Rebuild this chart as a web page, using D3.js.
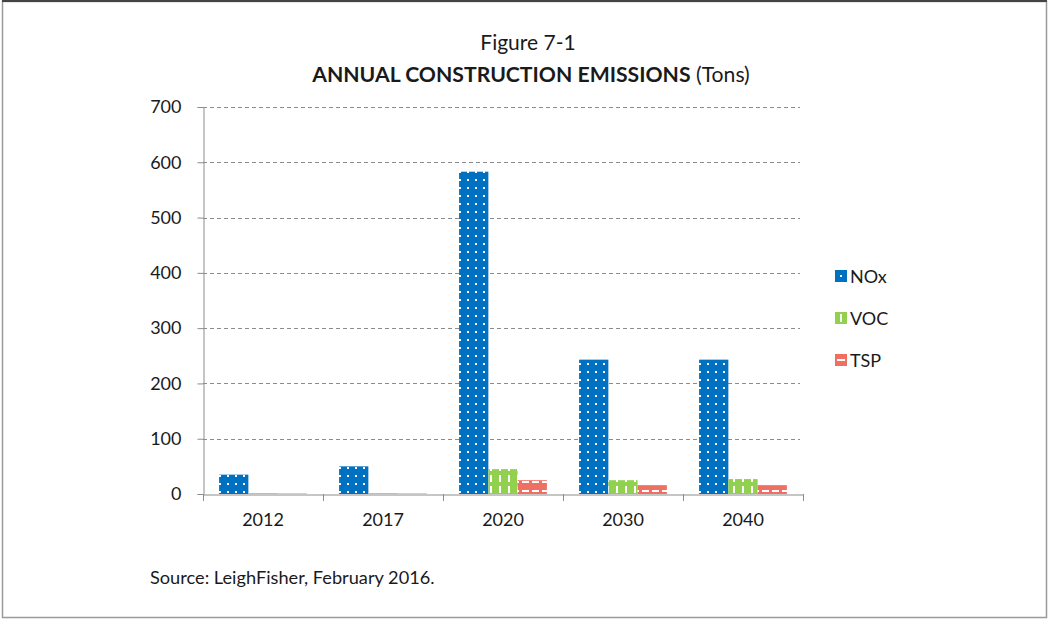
<!DOCTYPE html>
<html>
<head>
<meta charset="utf-8">
<script src="https://cdn.jsdelivr.net/npm/d3@7"></script>
<style>
  body { margin: 0; background: #fff; }
  svg text { font-family: Lato, "Open Sans", sans-serif; fill: #1a1a1a; }
</style>
</head>
<body>
<script>
'use strict';

const years = ['2012', '2017', '2020', '2030', '2040'];
const seriesNames = ['NOx', 'VOC', 'TSP'];
const noxValues = [35, 50, 583, 243, 243];
const vocValues = [1.5, 1.5, 45, 25, 27];
const tspValues = [0.8, 0.8, 25, 16, 16];
const yTicks = [0, 100, 200, 300, 400, 500, 600, 700];

const W = 1049, H = 620;
const margin = { left: 203, right: 246, top: 107, bottom: 126 };
const fontStack = 'Lato, "Open Sans", sans-serif';

const svg = d3.select('body').append('svg')
  .attr('width', W).attr('height', H)
  .attr('viewBox', `0 0 ${W} ${H}`);

const defs = svg.append('defs');

// fill patterns: dots, vertical dashes, horizontal dashes
const addPattern = (id, color, size, mark) => {
  const p = defs.append('pattern')
    .attr('id', id)
    .attr('patternUnits', 'userSpaceOnUse')
    .attr('width', size.w).attr('height', size.h);
  p.append('rect').attr('width', size.w).attr('height', size.h).attr('fill', color);
  p.append('rect')
    .attr('x', mark.x).attr('y', mark.y)
    .attr('width', mark.w).attr('height', mark.h)
    .attr('fill', '#fff');
};
addPattern('pNOx', '#0070c0', { w: 8, h: 8 }, { x: 3, y: 3, w: 2, h: 2 });
addPattern('pVOC', '#92d050', { w: 9, h: 11 }, { x: 4, y: 2, w: 2, h: 7 });
addPattern('pTSP', '#ef6f62', { w: 10, h: 9 }, { x: 2, y: 4, w: 7, h: 2 });

// frame
svg.append('rect')
  .attr('x', 2.5).attr('y', 1.5)
  .attr('width', W - 5).attr('height', H - 4)
  .attr('fill', 'none').attr('stroke', '#9a9a9a').attr('stroke-width', 1.5);
svg.append('line')
  .attr('x1', 2).attr('x2', W - 2).attr('y1', 1).attr('y2', 1)
  .attr('stroke', '#444').attr('stroke-width', 2);

// title
svg.append('text')
  .attr('x', 528).attr('y', 50)
  .attr('text-anchor', 'middle')
  .attr('font-size', 21)
  .text('Figure 7-1');
const t2 = svg.append('text')
  .attr('x', 531).attr('y', 82)
  .attr('text-anchor', 'middle')
  .attr('font-size', 21.2);
t2.append('tspan').attr('font-weight', 'bold').text('ANNUAL CONSTRUCTION EMISSIONS');
t2.append('tspan').text(' (Tons)');

const plotW = W - margin.left - margin.right;
const plotH = H - margin.top - margin.bottom;

const x = d3.scaleBand().domain(years).range([margin.left, margin.left + plotW]).paddingInner(0).paddingOuter(0);
const sub = d3.scaleBand().domain(seriesNames).range([0, x.bandwidth()]).paddingOuter(0.55).paddingInner(0);
const y = d3.scaleLinear().domain([0, 700]).range([margin.top + plotH, margin.top]);

// grid
svg.append('g').selectAll('line')
  .data(yTicks.filter(d => d > 0))
  .join('line')
  .attr('x1', margin.left).attr('x2', margin.left + plotW - 3)
  .attr('y1', d => Math.round(y(d)) + 0.5).attr('y2', d => Math.round(y(d)) + 0.5)
  .attr('stroke', '#8c8c8c')
  .attr('stroke-dasharray', '4,3');

// y axis
const yAxis = svg.append('g')
  .attr('transform', `translate(${margin.left + 0.5},0)`)
  .call(d3.axisLeft(y).tickValues(yTicks).tickSize(6).tickPadding(16));
yAxis.select('.domain').attr('stroke', '#8c8c8c');
yAxis.selectAll('.tick line').attr('stroke', '#8c8c8c');
yAxis.selectAll('.tick text').attr('font-size', 18).attr('fill', '#1a1a1a')
  .style('font-family', fontStack);

// bars
const seriesData = [noxValues, vocValues, tspValues];
const groups = svg.append('g').selectAll('g')
  .data(seriesNames)
  .join('g')
  .attr('fill', name => `url(#p${name})`);
groups.selectAll('rect')
  .data((name, i) => years.map((yr, j) => ({ yr, name, v: seriesData[i][j] })))
  .join('rect')
  .attr('x', d => x(d.yr) + sub(d.name))
  .attr('width', sub.bandwidth())
  .attr('y', d => y(d.v))
  .attr('height', d => y(0) - y(d.v));

// x axis
const xAxis = svg.append('g')
  .attr('transform', `translate(0,${Math.round(y(0)) + 0.5})`)
  .call(d3.axisBottom(x).tickSize(0).tickPadding(19));
xAxis.select('.domain').attr('stroke', '#8c8c8c');
xAxis.selectAll('.tick text').attr('font-size', 18).attr('fill', '#1a1a1a')
  .style('font-family', fontStack);
// boundary ticks between categories
svg.append('g').selectAll('line')
  .data(years.concat(['end']))
  .join('line')
  .attr('x1', (d, i) => margin.left + i * x.bandwidth() + 0.5)
  .attr('x2', (d, i) => margin.left + i * x.bandwidth() + 0.5)
  .attr('y1', Math.round(y(0)))
  .attr('y2', Math.round(y(0)) + 7)
  .attr('stroke', '#8c8c8c');

// legend
const legend = svg.append('g').attr('transform', 'translate(835,270)');
const li = legend.selectAll('g')
  .data(seriesNames)
  .join('g')
  .attr('transform', (d, i) => `translate(0,${i * 42})`);
li.append('rect')
  .attr('width', 12).attr('height', 12)
  .attr('fill', d => d === 'NOx' ? '#0070c0' : d === 'VOC' ? '#92d050' : '#ef6f62');
li.filter(d => d === 'NOx').append('rect')
  .attr('x', 5).attr('y', 5).attr('width', 2).attr('height', 2).attr('fill', '#fff');
li.filter(d => d === 'VOC').append('rect')
  .attr('x', 5).attr('y', 2).attr('width', 2).attr('height', 8).attr('fill', '#fff');
li.filter(d => d === 'TSP').append('rect')
  .attr('x', 2).attr('y', 5).attr('width', 8).attr('height', 2).attr('fill', '#fff');
li.append('text')
  .attr('x', 15).attr('y', 12.5)
  .attr('font-size', 18)
  .text(d => d);

// source note
svg.append('text')
  .attr('x', 150).attr('y', 584)
  .attr('font-size', 18.2)
  .text('Source:  LeighFisher, February 2016.');
</script>
</body>
</html>
